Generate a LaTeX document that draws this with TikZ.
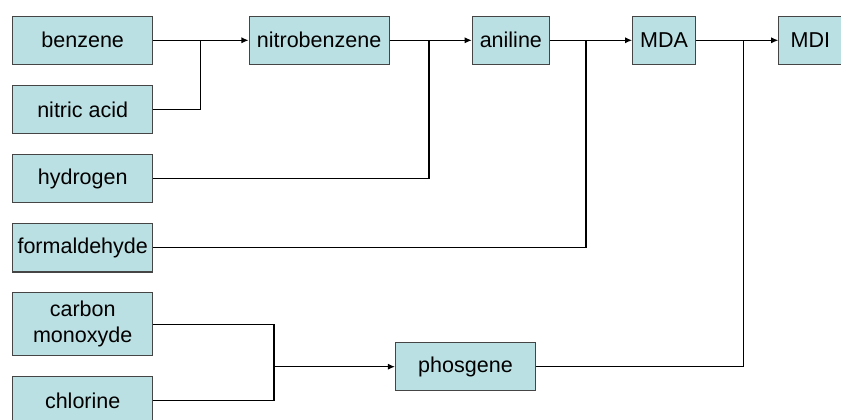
\documentclass[tikz,border=0pt]{standalone}
\usepackage{fontspec}
\setmainfont{Liberation Sans}
\usetikzlibrary{positioning,arrows.meta}
\definecolor{boxfill}{HTML}{BBE0E3}
\definecolor{boxline}{HTML}{454545}
\tikzset{
	chem/.style={draw=boxline, fill=boxfill, line width=0.8pt, minimum width=3.5cm, minimum height=1.21cm, inner sep=2pt, align=center, font=\fontsize{15.3}{18.2}\selectfont},
	flow/.style={line width=0.8pt, -{Latex[length=5pt,width=4.4pt]}},
	joint/.style={line width=0.8pt},
}
\begin{document}
\begin{tikzpicture}[x=0.025cm, y=-0.025cm]
	\useasboundingbox (0,0) rectangle (841,420);
	\node[chem] (benz) at (82.7,40.3) {benzene};
	\node[chem, below=0.49cm of benz] (nitric) {nitric acid};
	\node[chem, below=0.49cm of nitric] (hydro) {hydrogen};
	\node[chem, below=0.49cm of hydro] (form) {formaldehyde};
	\node[chem, below=0.49cm of form, minimum height=1.57cm] (carb) {carbon\\monoxyde};
	\node[chem, below=0.49cm of carb] (chlor) {chlorine};
	\node[chem, right=2.38cm of benz] (nbenz) {nitrobenzene};
	\node[chem, right=2.05cm of nbenz, minimum width=1.93cm] (anil) {aniline};
	\node[chem, right=2.05cm of anil, minimum width=1.575cm] (mda) {MDA};
	\node[chem, right=2.05cm of mda, minimum width=1.575cm] (mdi) {MDI};
	\node[chem] (phos) at (465.5,366.7) {phosgene};
	
	\coordinate (j1) at (200.7,40.3);
	\coordinate (j2) at (429,40.3);
	\coordinate (j3) at (586,40.3);
	\coordinate (j4) at (743.3,40.3);
	\coordinate (j5) at (274,366.7);
	
	\draw[flow] (benz) -- (nbenz);
	\draw[flow] (nbenz) -- (anil);
	\draw[flow] (anil) -- (mda);
	\draw[flow] (mda) -- (mdi);
	\draw[joint] (nitric) -| (j1);
	\draw[joint] (hydro) -| (j2);
	\draw[joint] (form) -| (j3);
	\draw[joint] (phos) -| (j4);
	\draw[joint] (carb) -| (j5);
	\draw[joint] (chlor) -| (j5);
	\draw[flow] (j5) -- (phos);
\end{tikzpicture}
\end{document}
